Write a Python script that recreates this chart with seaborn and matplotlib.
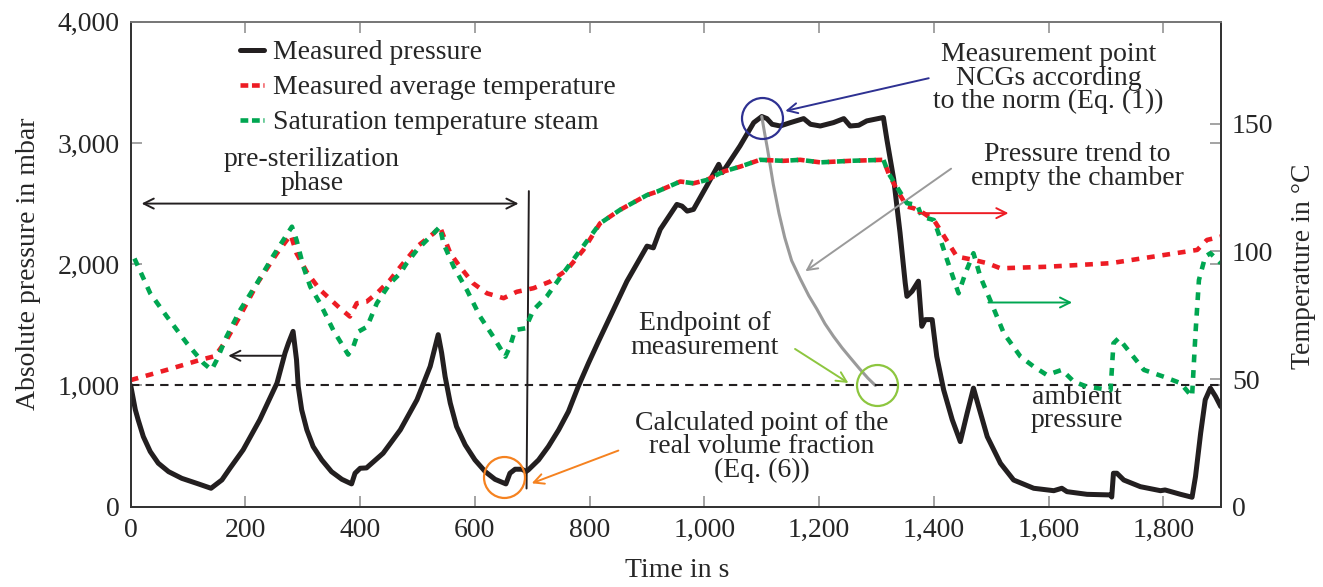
import matplotlib
matplotlib.use('Agg')
import matplotlib.pyplot as plt
from matplotlib.lines import Line2D
from matplotlib.ticker import FuncFormatter
import seaborn as sns

# --- data ---
# measured pressure (mbar)
time_p = [0, 4, 8, 13, 22, 34, 48, 66, 89, 118, 140,
          159, 173, 196, 225, 255, 269, 275, 283,
          289, 292, 298, 307, 318, 333, 350, 368, 385,
          391, 400, 411, 440, 470, 499, 522, 536,
          542, 548, 557, 568, 583, 600, 618, 635, 654,
          661, 670, 682, 689, 693, 711, 728, 746, 763, 780, 798, 815, 836, 865, 900,
          911, 923, 952, 961, 970, 981, 1004, 1025, 1031, 1039,
          1062, 1086, 1100, 1109, 1118, 1132, 1150, 1173, 1185, 1202, 1225, 1243, 1254, 1269, 1283,
          1312, 1318, 1330, 1341, 1350, 1353, 1362, 1373, 1379, 1385, 1397, 1405, 1417, 1432, 1446,
          1458, 1469, 1478, 1493, 1516, 1539, 1574, 1609, 1623, 1632, 1667, 1708, 1710, 1713, 1719,
          1731, 1760, 1795, 1803, 1830, 1850, 1856, 1865, 1873, 1882, 1891, 1900]
pressure = [1000, 900, 800, 716, 578, 455, 359, 289, 234, 188, 152,
            221, 317, 469, 717, 1020, 1268, 1350, 1446,
            1212, 992, 799, 634, 496, 386, 289, 226, 188,
            276, 317, 320, 441, 634, 882, 1157, 1419,
            1268, 1074, 855, 661, 510, 386, 289, 226, 188,
            276, 309, 309, 290, 303, 386, 496, 634, 785, 990, 1185, 1360, 1570, 1860, 2149,
            2135, 2287, 2493, 2479, 2438, 2452, 2645, 2824, 2755, 2810,
            2975, 3168, 3218, 3201, 3154, 3140, 3168, 3201, 3154, 3140, 3168, 3201, 3140, 3146, 3182,
            3210, 3030, 2700, 2259, 1846, 1735, 1777, 1860, 1488, 1543, 1543, 1240, 964, 717, 537,
            772, 978, 826, 578, 358, 220, 152, 132, 152, 124, 102, 97, 80, 276, 276,
            220, 165, 132, 138, 102, 78, 248, 607, 882, 978, 909, 826]

# measured average temperature (°C)
time_avg = [0, 63, 121, 147, 167, 190, 222, 255, 279, 289, 308, 330, 365, 382, 394, 411, 429, 452, 470,
            499, 528, 539, 557, 574, 597, 621, 650, 673, 702, 731, 760, 789, 818, 853, 900, 917, 958,
            981, 1004, 1033, 1062, 1097, 1138, 1167, 1202, 1254, 1312, 1321, 1336, 1353, 1365, 1382,
            1400, 1411, 1440, 1469, 1493, 1516, 1597, 1708, 1859, 1876, 1900]
temp_avg = [49.6, 53.6, 57.5, 59.0, 65.3, 74.5, 88.0, 99.3, 106.5, 99.3, 91.5, 85.0, 77.7, 74.5, 79.7, 80.3, 83.6, 88.8, 94.0,
            101.9, 107.1, 109.7, 99.3, 94.0, 87.5, 83.6, 81.7, 84.2, 85.6, 88.2, 92.7, 100.6, 111.0, 116.3, 122.1, 123.4, 127.4,
            126.7, 128.0, 131.3, 133.2, 135.9, 135.5, 135.9, 134.9, 135.5, 135.9, 130.6, 124.0, 117.6, 116.9, 115.0,
            112.3, 108.4, 98.0, 96.7, 95.4, 93.4, 94.0, 95.4, 100.6, 104.5, 105.8]

# saturation temperature steam (°C)
time_sat = [0, 5, 34, 63, 98, 127, 141, 150, 167, 191, 220, 249, 281, 289, 301, 313, 330, 353, 379, 388,
            397, 412, 429, 452, 470, 481, 499, 528, 539, 545, 563, 586, 609, 632, 653, 661, 670, 688,
            702, 725, 754, 784, 818, 853, 900, 917, 958, 981, 1004, 1033, 1062, 1097, 1138, 1167, 1202,
            1254, 1312, 1321, 1353, 1371, 1379, 1400, 1408, 1423, 1443, 1455, 1469, 1481, 1498, 1522,
            1551, 1574, 1597, 1623, 1644, 1667, 1708, 1713, 1722, 1743, 1766, 1801, 1830, 1850, 1856,
            1862, 1873, 1882, 1900]
temp_sat = [99.9, 98.0, 83.6, 74.5, 64.0, 56.2, 53.6, 57.5, 66.6, 77.1, 87.5, 98.5, 109.7, 104.5, 94.0, 86.2, 79.7, 69.2, 59.6, 62.7,
            68.6, 70.5, 79.7, 87.5, 91.5, 95.4, 100.6, 107.1, 109.7, 103.2, 94.0, 84.9, 74.5, 66.6, 58.8, 62.7, 69.2, 69.9,
            77.1, 82.3, 91.5, 100.6, 111.0, 116.3, 122.1, 123.4, 127.4, 126.7, 128.0, 131.3, 133.2, 135.9, 135.5, 135.9, 134.9,
            135.5, 135.9, 130.6, 118.9, 118.2, 113.6, 112.3, 107.1, 96.7, 83.6, 91.5, 99.3, 90.1, 81.0, 67.9,
            58.8, 54.9, 51.6, 53.6, 49.0, 47.0, 45.7, 64.0, 66.0, 60.1, 53.6, 50.9, 48.4, 43.1, 67.9,
            88.8, 98.0, 99.3, 95.4]

# pressure trend to empty the chamber (grey)
time_trend = [1100, 1105, 1110, 1120, 1130, 1140, 1152, 1167, 1182, 1196, 1210, 1225, 1240, 1254, 1270, 1285, 1298]
p_trend = [3218, 3080, 2950, 2660, 2420, 2220, 2030, 1880, 1740, 1630, 1510, 1405, 1310, 1230, 1140, 1060, 1000]

# end of pre-sterilization phase marker
time_end_pre = [690, 694]
p_end_pre = [150, 2603]

ambient = 1000
pt_norm = (1100, 3210)      # measurement point NCGs (norm)
pt_end = (1300, 1000)       # endpoint of measurement
pt_calc = (650, 248)        # calculated point real volume fraction

black = '#231f20'
red = '#ed1c24'
green = '#00a651'
grey = '#9a9a9a'
blue = '#2e3192'
orange = '#f58220'
lgreen = '#8dc63f'

sns.set_style('ticks')
plt.rcParams['font.family'] = ['Liberation Serif', 'DejaVu Serif']
plt.rcParams['font.size'] = 20

fig = plt.figure(figsize=(13.23, 5.87), dpi=100)
ax = fig.add_axes([0.0988, 0.1368, 0.8239, 0.8262])
ax2 = ax.twinx()

# curves
sns.lineplot(x=time_p, y=pressure, ax=ax, color=black, lw=3.6, estimator=None, sort=False, legend=False)
sns.lineplot(x=time_trend, y=p_trend, ax=ax, color=grey, lw=2.2, estimator=None, sort=False, legend=False)
sns.lineplot(x=time_end_pre, y=p_end_pre, ax=ax, color=black, lw=1.4, estimator=None, sort=False, legend=False)
ax.axhline(ambient, color=black, lw=1.5, linestyle=(0, (4, 3)))

dash = (0, (1.7, 1.7))
sns.lineplot(x=time_avg, y=temp_avg, ax=ax2, color=red, lw=3.3, linestyle=dash,
             estimator=None, sort=False, legend=False)
sns.lineplot(x=time_sat, y=temp_sat, ax=ax2, color=green, lw=3.3, linestyle=(1.7, (1.7, 1.7)),
             estimator=None, sort=False, legend=False)

# circles
ax.plot(*pt_norm, 'o', ms=29.5, mfc='none', mec=blue, mew=1.6)
ax.plot(*pt_end, 'o', ms=29.5, mfc='none', mec=lgreen, mew=1.6)
ax.plot(*pt_calc, 'o', ms=29.5, mfc='none', mec=orange, mew=1.6)

# arrows
arr = dict(arrowstyle='->', lw=1.4, mutation_scale=18, shrinkA=0, shrinkB=0)
ax.annotate('', xy=(19, 2500), xytext=(676, 2500), arrowprops=dict(arr, arrowstyle='<->', color=black))
ax.annotate('', xy=(170, 1245), xytext=(265, 1245), arrowprops=dict(arr, color=black))
ax2.annotate('', xy=(1530, 115), xytext=(1373, 115), arrowprops=dict(arr, color=red))
ax2.annotate('', xy=(1641, 80), xytext=(1495, 80), arrowprops=dict(arr, color=green))
ax.annotate('', xy=(1141, 3264), xytext=(1391, 3534), arrowprops=dict(arr, color=blue))
ax.annotate('', xy=(1176, 1942), xytext=(1430, 2788), arrowprops=dict(arr, color=grey))
ax.annotate('', xy=(1251, 1020), xytext=(1158, 1301), arrowprops=dict(arr, color=lgreen))
ax.annotate('', xy=(699, 193), xytext=(850, 463), arrowprops=dict(arr, color=orange))

# texts
tk = dict(ha='center', va='center', linespacing=0.93)
ax.text(316, 2766, 'pre-sterilization\nphase', **tk)
ax.text(1600, 3534, 'Measurement point\nNCGs according\nto the norm (Eq. (1))', **tk)
ax.text(1650, 2807, 'Pressure trend to\nempty the chamber', **tk)
ax.text(1000, 1410, 'Endpoint of\nmeasurement', **tk)
ax.text(1100, 494, 'Calculated point of the\nreal volume fraction\n(Eq. (6))', **tk)
ax.text(1650, 805, 'ambient\npressure', **tk)

# axes
ax.set_xlim(0, 1900)
ax.set_ylim(0, 4000)
ax2.set_ylim(0, 190)
ax.set_xticks(range(0, 1801, 200))
ax.set_yticks(range(0, 4001, 1000))
ax2.set_yticks([0, 50, 100, 150])
fmt = FuncFormatter(lambda v, pos: f'{v:,.0f}')
ax.xaxis.set_major_formatter(fmt)
ax.yaxis.set_major_formatter(fmt)
ax.tick_params(direction='in', length=8, width=1.1, color='#8a8a8a', labelsize=20, pad=8,
               top=True, right=True, labelright=False)
ax2.tick_params(direction='in', length=8, width=1.1, color='#8a8a8a', labelsize=20, pad=8)
for a in (ax, ax2):
    for s in ('left', 'bottom', 'right'):
        a.spines[s].set_color('#333333')
        a.spines[s].set_linewidth(1.3)
    a.spines['top'].set_color('#777777')
    a.spines['top'].set_linewidth(1.3)

ax.set_xlabel('Time in s', va='center')
ax.xaxis.set_label_coords(0.501, -0.132)
ax.set_ylabel('Absolute pressure in mbar', va='center')
ax.yaxis.set_label_coords(-0.094, 0.50)
ax2.set_ylabel('Temperature in °C', va='center')
ax2.yaxis.set_label_coords(1.076, 0.495)

handles = [Line2D([], [], color=black, lw=3.6),
           Line2D([], [], color=red, lw=3.3, linestyle=(0, (1.7, 0.8))),
           Line2D([], [], color=green, lw=3.3, linestyle=(0, (1.7, 0.8)))]
labels = ['Measured pressure', 'Measured average temperature', 'Saturation temperature steam']
ax2.legend(handles, labels, loc='upper left', bbox_to_anchor=(240 / 1323, 1 - 40 / 587),
           bbox_transform=fig.transFigure, frameon=False, borderpad=0, borderaxespad=0,
           handlelength=0.85, handletextpad=0.35, labelspacing=0.34, fontsize=20)

fig.savefig('out.png', dpi=100)
